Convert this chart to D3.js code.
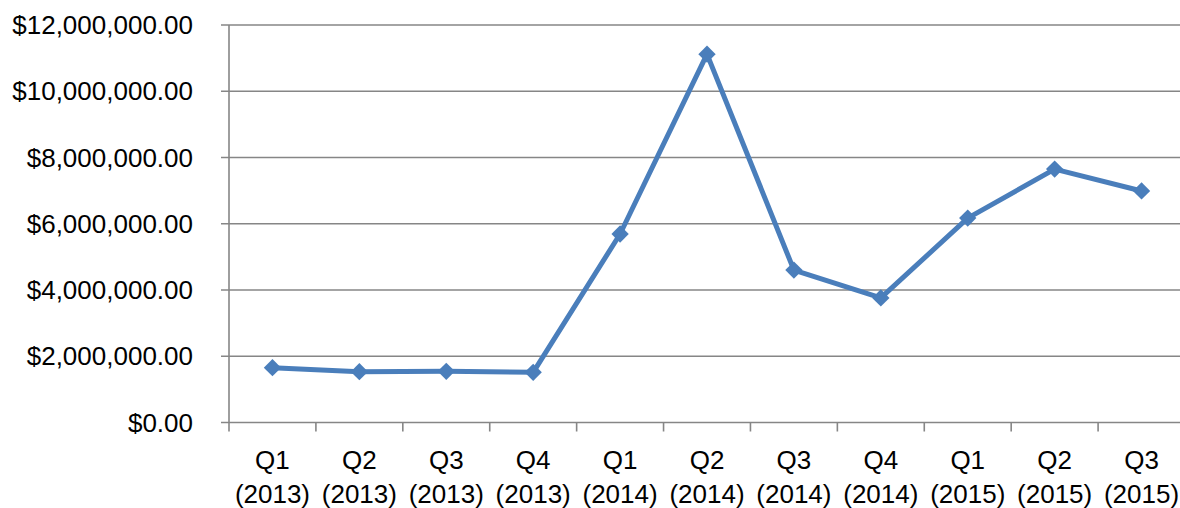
<!DOCTYPE html>
<html>
<head>
<meta charset="utf-8">
<script src="https://cdn.jsdelivr.net/npm/d3@7"></script>
<style>
  html, body { margin: 0; padding: 0; background: #fff; }
  svg { display: block; }
  text { font-family: "Liberation Sans", Arial, sans-serif; fill: #000; }
</style>
</head>
<body>
<svg id="chart" width="1180" height="508"></svg>
<script>
// Quarterly totals
const quarters = ["Q1", "Q2", "Q3", "Q4", "Q1", "Q2", "Q3", "Q4", "Q1", "Q2", "Q3"];
const years = ["2013", "2013", "2013", "2013", "2014", "2014", "2014", "2014", "2015", "2015", "2015"];
const amounts = [1654000, 1534000, 1546000, 1515000, 5690000, 11120000, 4600000, 3760000, 6170000, 7650000, 6990000];
const yTicks = [0, 2000000, 4000000, 6000000, 8000000, 10000000, 12000000];

(function () {
  const categories = quarters.map((q, i) => `${q} (${years[i]})`);
  const data = categories.map((c, i) => ({ key: c, q: quarters[i], y: years[i], v: amounts[i] }));

  const svg = d3.select("#chart");
  const plotLeft = 229, plotRight = 1185, plotTop = 25, plotBottom = 422.5;

  const x = d3.scaleBand().domain(categories).range([plotLeft, plotRight]).padding(0);
  const y = d3.scaleLinear().domain([0, 12000000]).range([plotBottom, plotTop]);
  const cx = d => x(d.key) + x.bandwidth() / 2;

  const grey = "#868686";
  const fmt = v => "$" + d3.format(",.2f")(v);

  // Horizontal gridlines
  svg.append("g")
    .selectAll("line")
    .data(yTicks)
    .join("line")
    .attr("x1", plotLeft - 8).attr("x2", 1180)
    .attr("y1", d => y(d)).attr("y2", d => y(d))
    .attr("stroke", grey).attr("stroke-width", 1.6);

  // Y axis line and labels
  svg.append("line")
    .attr("x1", plotLeft).attr("x2", plotLeft)
    .attr("y1", plotTop).attr("y2", plotBottom)
    .attr("stroke", grey).attr("stroke-width", 1.6);

  svg.append("g")
    .selectAll("text")
    .data(yTicks)
    .join("text")
    .attr("x", 193)
    .attr("y", d => y(d))
    .attr("dy", "0.35em")
    .attr("text-anchor", "end")
    .attr("font-size", 26)
    .text(fmt);

  // X axis ticks at category boundaries
  const boundaries = categories.map(c => x(c)).concat([plotRight]);
  svg.append("g")
    .selectAll("line")
    .data(boundaries)
    .join("line")
    .attr("x1", d => d).attr("x2", d => d)
    .attr("y1", plotBottom).attr("y2", plotBottom + 9)
    .attr("stroke", grey).attr("stroke-width", 1.6);

  // Two-line category labels
  const lbl = svg.append("g")
    .selectAll("text")
    .data(data)
    .join("text")
    .attr("text-anchor", "middle")
    .attr("font-size", 26);
  lbl.append("tspan")
    .attr("x", cx)
    .attr("y", 469)
    .text(d => d.q);
  lbl.append("tspan")
    .attr("x", cx)
    .attr("y", 503)
    .text(d => `(${d.y})`);

  // Series line
  const blue = "#4a7ebb";
  const line = d3.line().x(cx).y(d => y(d.v));

  svg.append("path")
    .datum(data)
    .attr("d", line)
    .attr("fill", "none")
    .attr("stroke", blue)
    .attr("stroke-width", 5)
    .attr("stroke-linejoin", "round");

  // Diamond markers
  svg.append("g")
    .selectAll("path")
    .data(data)
    .join("path")
    .attr("transform", d => `translate(${cx(d)},${y(d.v)}) rotate(45)`)
    .attr("d", d3.symbol().type(d3.symbolSquare).size(150))
    .attr("fill", blue);
})();
</script>
</body>
</html>
